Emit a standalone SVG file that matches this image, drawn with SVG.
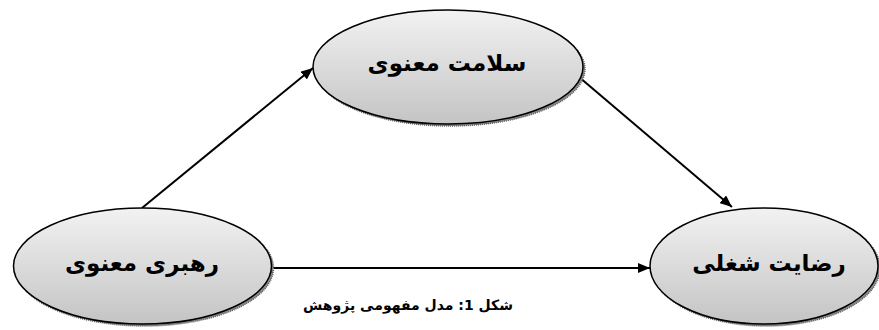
<svg xmlns="http://www.w3.org/2000/svg" width="879" height="330" viewBox="0 0 879 330">
<defs>
<linearGradient id="g" x1="0" y1="0" x2="0" y2="1">
<stop offset="0" stop-color="#f2f2f2"/>
<stop offset="1" stop-color="#c4c4c4"/>
</linearGradient>
<marker id="ah" viewBox="0 0 12 10" refX="12" refY="5" markerWidth="12" markerHeight="10" markerUnits="userSpaceOnUse" orient="auto">
<path d="M0,0 L12,5 L0,10 Z" fill="#000"/>
</marker>
<style>
.sh{fill:#8a8a8a;stroke:#5a5a5a;stroke-width:1.5;stroke-dasharray:1 1}
.el{fill:url(#g);stroke:#000;stroke-width:1.5}
.lb{font-family:"DejaVu Sans",sans-serif;font-weight:bold;font-size:23px;fill:#000;text-anchor:middle}
.cn{stroke:#000;stroke-width:2;fill:none;marker-end:url(#ah)}
.cap{font-family:"DejaVu Sans",sans-serif;font-weight:bold;font-size:14px;fill:#000;text-anchor:middle}
</style>
</defs>
<g id="connectors">
<line class="cn" x1="142" y1="208" x2="313" y2="68"/>
<line class="cn" x1="579" y1="77" x2="732" y2="207"/>
<line class="cn" x1="272" y1="268" x2="650" y2="268"/>
</g>
<g id="node-salamat">
<ellipse class="sh" cx="450" cy="69" rx="135" ry="57"/>
<ellipse class="el" cx="448" cy="67" rx="135" ry="57"/>
<text class="lb" x="447" y="71" direction="rtl">سلامت معنوی</text>
</g>
<g id="node-rahbari">
<ellipse class="sh" cx="144.5" cy="268" rx="129" ry="58"/>
<ellipse class="el" cx="142.5" cy="266" rx="129" ry="58"/>
<text class="lb" x="142" y="271" direction="rtl">رهبری معنوی</text>
</g>
<g id="node-rezayat">
<ellipse class="sh" cx="766" cy="268" rx="114" ry="58"/>
<ellipse class="el" cx="764" cy="266" rx="114" ry="58"/>
<text class="lb" x="769" y="271" direction="rtl">رضایت شغلی</text>
</g>
<text class="cap" x="408" y="310" direction="rtl">شکل 1: مدل مفهومی پژوهش</text>
</svg>
